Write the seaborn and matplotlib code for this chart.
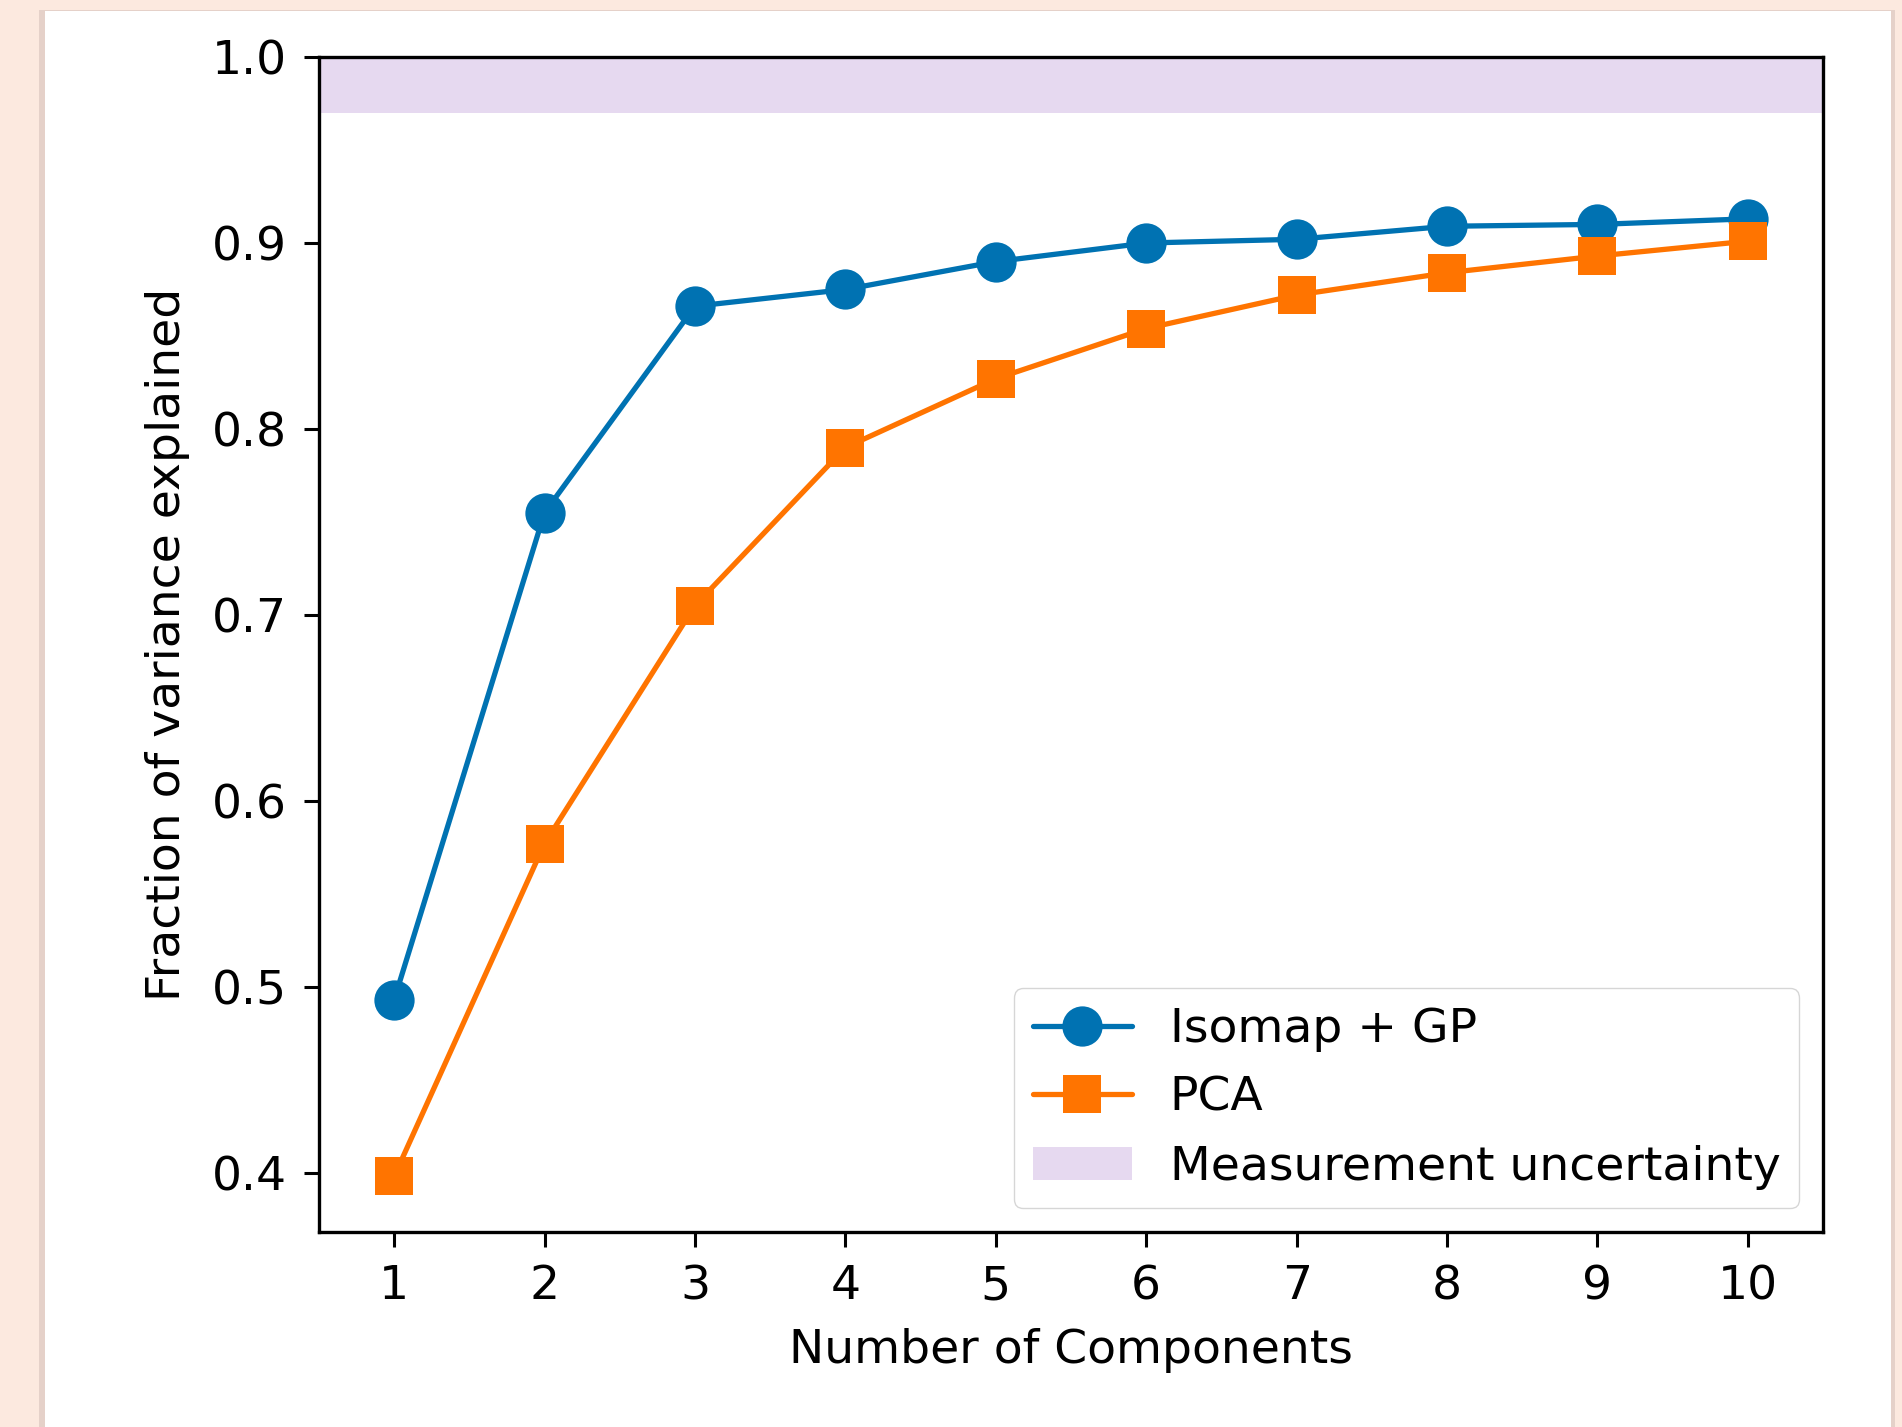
import matplotlib.pyplot as plt
import matplotlib.patches as mpatches
import pandas as pd
import seaborn as sns

# Data
components = [1, 2, 3, 4, 5, 6, 7, 8, 9, 10]
isomap_gp = [0.493, 0.755, 0.866, 0.875, 0.890, 0.900, 0.902, 0.909, 0.910, 0.913]
pca = [0.398, 0.577, 0.705, 0.790, 0.827, 0.854, 0.872, 0.884, 0.893, 0.901]
uncertainty_band = (0.97, 1.0)

df = pd.DataFrame({'n': components, 'Isomap + GP': isomap_gp, 'PCA': pca})

sns.set_style('ticks')
plt.rcParams['font.family'] = ['DejaVu Sans']
plt.rcParams['font.size'] = 34
plt.rcParams['text.color'] = 'black'
plt.rcParams['axes.labelcolor'] = 'black'
plt.rcParams['xtick.color'] = 'black'
plt.rcParams['ytick.color'] = 'black'

fig = plt.figure(figsize=(19.02, 14.27), dpi=100, facecolor='#fce9df')

# white card with soft shadow
fig.patches.append(mpatches.Rectangle((0.0205, -0.05), 0.976, 1.043, transform=fig.transFigure,
                                      facecolor='#dcc8c0', edgecolor='none', alpha=0.7, zorder=-10))
fig.patches.append(mpatches.Rectangle((0.0237, -0.05), 0.9705, 1.042, transform=fig.transFigure,
                                      facecolor='white', edgecolor='none', zorder=-9))

ax = fig.add_axes([0.1677, 0.1366, 0.7908, 0.8234])
ax.set_zorder(5)

ax.axhspan(*uncertainty_band, color='#e6d9f0', lw=0, label='Measurement uncertainty', zorder=0)
sns.lineplot(data=df, x='n', y='Isomap + GP', ax=ax, color='#0072B2', lw=3.8,
             marker='o', markersize=29, markeredgewidth=0, label='Isomap + GP')
sns.lineplot(data=df, x='n', y='PCA', ax=ax, color='#FF7400', lw=3.8,
             marker='s', markersize=28, markeredgewidth=0, label='PCA')

ax.set_xlim(0.5, 10.5)
ax.set_ylim(0.368, 1.0)
ax.set_xticks(components)
ax.set_yticks([0.4, 0.5, 0.6, 0.7, 0.8, 0.9, 1.0])
ax.set_xlabel('Number of Components', fontsize=34, labelpad=14)
ax.set_ylabel('Fraction of variance explained', fontsize=34, labelpad=16)
ax.tick_params(labelsize=34, width=2.2, length=11, color='black', pad=12)
for s in ax.spines.values():
    s.set_linewidth(2.4)
    s.set_color('black')
    s.set_visible(True)

h, l = ax.get_legend_handles_labels()
order = [l.index('Isomap + GP'), l.index('PCA'), l.index('Measurement uncertainty')]
ax.legend([h[i] for i in order], [l[i] for i in order], loc='lower right',
          fontsize=34, frameon=True, fancybox=True, edgecolor='#cccccc',
          borderaxespad=0.5, handlelength=2.1, framealpha=0.8)

fig.savefig('out.png', dpi=100, facecolor=fig.get_facecolor())
